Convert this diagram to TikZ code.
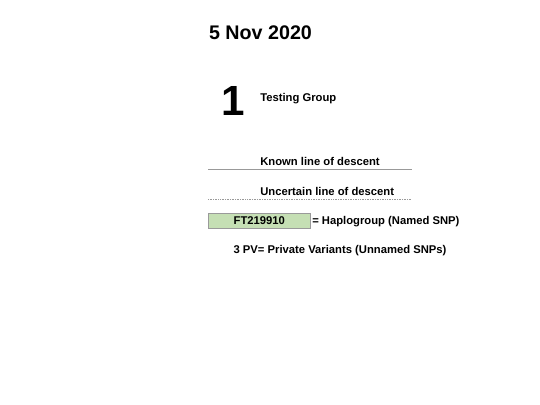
\documentclass[tikz,border=0pt]{standalone}
\usepackage{fontspec}
\setmainfont{Liberation Sans}
\definecolor{snpgreen}{HTML}{C5DFB4}
\definecolor{snpedge}{HTML}{9A9A9A}
\definecolor{lineGray}{HTML}{999999}
\tikzset{
    legendtext/.style={font=\bfseries\fontsize{8}{10}\selectfont, inner sep=0pt},
    snpbox/.style={draw=snpedge, fill=snpgreen, minimum width=2.55cm, minimum height=0.38cm,
        inner sep=0pt, font=\bfseries\fontsize{8}{10}\selectfont}
}
\begin{document}
\begin{tikzpicture}[x=0.025cm,y=-0.025cm]
    \useasboundingbox (0,0) rectangle (540,405);
    \node[inner sep=0pt, anchor=base, font=\bfseries\fontsize{14}{16}\selectfont] (date) at (260.5,39.5) {5 Nov 2020};
    \node[inner sep=0pt, anchor=base, font=\bfseries\fontsize{30}{32}\selectfont] (count) at (233,116) {1};
    \node[legendtext, anchor=base west] (group) at (260,102) {Testing Group};
    % legend lines
    \node[legendtext, anchor=base west] (known) at (260,166) {Known line of descent};
    \coordinate (knownA) at (208,169);
    \coordinate (knownB) at (412,169);
    \draw[lineGray, line width=0.6pt] (knownA) -- (knownB);
    \node[legendtext, anchor=base west] (uncertain) at (260,196) {Uncertain line of descent};
    \coordinate (uncA) at (208,199);
    \coordinate (uncB) at (412,199);
    \draw[lineGray, line width=0.5pt, dash pattern=on 0.6pt off 0.6pt] (uncA) -- (uncB);
    % haplogroup box
    \node[snpbox, anchor=west] (snp) at (208,220.5) {FT219910};
    \node[legendtext, anchor=base west] (haplo) at (312,225) {= Haplogroup (Named SNP)};
    \node[legendtext, anchor=base] (pv) at (340,254) {3 PV= Private Variants (Unnamed SNPs)};
\end{tikzpicture}
\end{document}
